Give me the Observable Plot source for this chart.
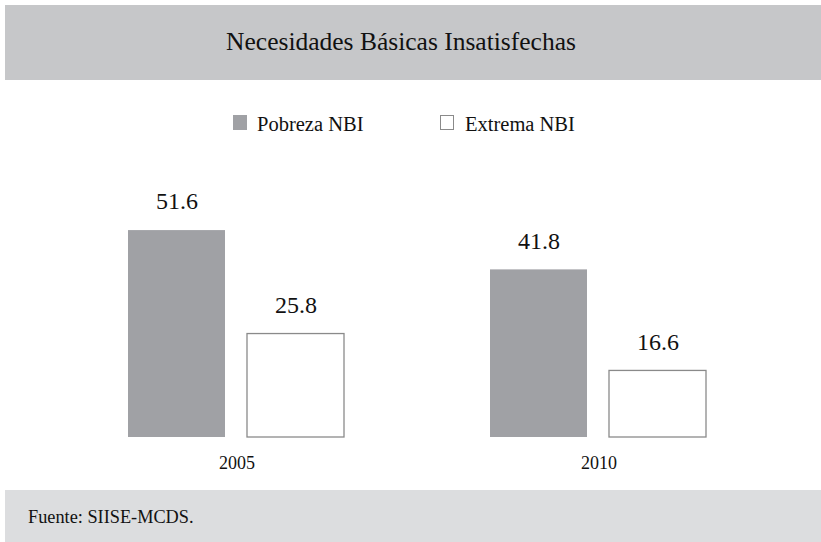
<!DOCTYPE html>
<html>
<head>
<meta charset="utf-8">
<script src="https://cdn.jsdelivr.net/npm/d3@7"></script>
<script src="https://cdn.jsdelivr.net/npm/@observablehq/plot@0.6"></script>
<style>
  html, body { margin: 0; padding: 0; background: #fff; }
  #wrap { position: relative; width: 821px; height: 542px; overflow: hidden; font-family: 'Liberation Serif', serif; color: #111; }
  #title { position: absolute; left: 5px; top: 5px; width: 816px; height: 75px; box-sizing: border-box; padding-right: 24px; background: #c6c7c9; text-align: center; font-size: 25.5px; line-height: 73px; }
  .sw { position: absolute; top: 115px; width: 14px; height: 15px; box-sizing: border-box; }
  .lt { position: absolute; top: 110px; font-size: 20.5px; line-height: 28px; }
  #chart { position: absolute; left: 0; top: 150px; }
  #foot { position: absolute; left: 5px; top: 490px; width: 816px; height: 52px; background: #dcdddf; font-size: 18.3px; line-height: 54px; box-sizing: border-box; padding-left: 23px; }
</style>
</head>
<body>
<div id="wrap">
  <div id="title">Necesidades Básicas Insatisfechas</div>
  <div class="sw" style="left:233px;background:#a0a1a5;"></div>
  <div class="lt" style="left:257px;">Pobreza NBI</div>
  <div class="sw" style="left:440px;background:#fff;border:1px solid #8a8a8a;"></div>
  <div class="lt" style="left:465px;">Extrema NBI</div>
  <div id="chart"></div>
  <div id="foot">Fuente: SIISE-MCDS.</div>
</div>
<script>
const years = ["2005", "2010"];
const series = ["Pobreza NBI", "Extrema NBI"];
const pobreza = [51.6, 41.8];
const extrema = [25.8, 16.6];
const fills = {"Pobreza NBI": "#a0a1a5", "Extrema NBI": "#ffffff"};
const strokes = {"Pobreza NBI": "none", "Extrema NBI": "#8a8a8a"};

const data = [];
years.forEach((y, i) => {
  data.push({year: y, series: series[0], value: pobreza[i]});
  data.push({year: y, series: series[1], value: extrema[i]});
});

const chart = Plot.plot({
  width: 821,
  height: 340,
  marginLeft: 127,
  marginRight: 113,
  marginTop: 46.4,
  marginBottom: 53,
  style: {fontFamily: "'Liberation Serif', serif", fontSize: "18px", color: "#111", background: "transparent", overflow: "visible"},
  fx: {domain: years, paddingInner: 0.3994, paddingOuter: 0, label: null, tickSize: 0, tickPadding: 19},
  x: {domain: series, paddingInner: 0.1833, paddingOuter: 0, axis: null},
  y: {domain: [0, 60], axis: null},
  marks: [
    Plot.barY(data, {fx: "year", x: "series", y: "value", fill: d => fills[d.series], stroke: d => strokes[d.series], strokeWidth: 1.3}),
    Plot.text(data, {fx: "year", x: "series", y: "value", text: d => d.value.toFixed(1), dy: -29, fontSize: 24, fill: "#111"})
  ]
});
document.getElementById("chart").appendChild(chart);
</script>
</body>
</html>
